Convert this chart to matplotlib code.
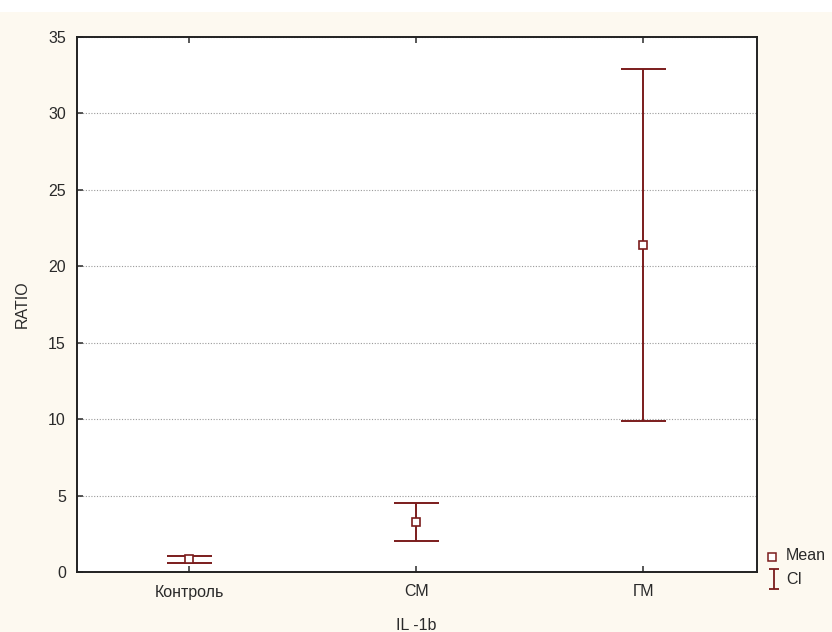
import matplotlib
matplotlib.use("Agg")
import matplotlib.pyplot as plt
from matplotlib.lines import Line2D
from matplotlib.path import Path
from matplotlib.patches import Rectangle

categories = ["Контроль", "СМ", "ГМ"]
means = [0.82, 3.3, 21.4]
ci_low = [0.6, 2.05, 9.9]
ci_high = [1.05, 4.5, 32.9]
yticks = [0, 5, 10, 15, 20, 25, 30, 35]

color = "#7b1c1c"
bg = "#fdf9f0"
txt = "#2a2a2a"
W, H = 832, 632
fs = 11.5

plt.rcParams["font.family"] = ["Liberation Sans", "DejaVu Sans"]

fig = plt.figure(figsize=(W / 100, H / 100), dpi=100, facecolor=bg)
fig.patches.append(Rectangle((0, 1 - 12 / H), 1, 12 / H, transform=fig.transFigure,
                             facecolor="white", edgecolor="none", zorder=0))
ax = fig.add_axes([77 / W, 1 - 572 / H, (757 - 77) / W, (572 - 37) / H])
ax.set_facecolor("white")

x = list(range(len(categories)))
ax.vlines(x, ci_low, ci_high, color=color, lw=1.4, zorder=3)
ax.hlines(ci_low, [i - 0.1 for i in x], [i + 0.1 for i in x], color=color, lw=1.4, zorder=3)
ax.hlines(ci_high, [i - 0.1 for i in x], [i + 0.1 for i in x], color=color, lw=1.4, zorder=3)
ax.plot(x, means, ls="none", marker="s", ms=5.5, mfc="white", mec=color, mew=1.2, zorder=4)

ax.set_xlim(-0.495, 2.5)
ax.set_ylim(0, 35)
ax.set_xticks(x)
ax.set_xticklabels(categories)
ax.set_yticks(yticks)
ax.yaxis.grid(True, ls=(0, (1, 1.5)), color="#9a9a9a", lw=0.8)
ax.set_axisbelow(True)
ax.tick_params(axis="both", labelsize=fs, colors=txt, length=4, width=1.1,
               top=True, right=False, direction="in")
ax.tick_params(axis="x", pad=9)
ax.tick_params(axis="y", pad=8)
for s in ax.spines.values():
    s.set_linewidth(1.4)
    s.set_color("#222222")

fig.text(22 / W, 1 - 304 / H, "RATIO", rotation=90, fontsize=fs, color=txt,
         ha="center", va="center")
fig.text(416 / W, 1 - 626 / H, "IL -1b", fontsize=fs, color=txt,
         ha="center", va="center")

# legend (outside, bottom right)
ibeam = Path([(-0.5, -1), (0.5, -1), (0, -1), (0, 1), (-0.5, 1), (0.5, 1)],
             [Path.MOVETO, Path.LINETO, Path.MOVETO, Path.LINETO, Path.MOVETO, Path.LINETO])
fig.add_artist(Line2D([772 / W], [1 - 557 / H], ls="none", marker="s", ms=5.5,
                      mfc="white", mec=color, mew=1.1, transform=fig.transFigure))
fig.add_artist(Line2D([774 / W], [1 - 579 / H], ls="none", marker=ibeam, ms=14,
                      mfc="none", mec=color, mew=1.3, transform=fig.transFigure))
fig.text(786 / W, 1 - 556 / H, "Mean", fontsize=fs, color=txt, ha="left", va="center")
fig.text(786 / W, 1 - 579 / H, "CI", fontsize=fs, color=txt, ha="left", va="center")

fig.savefig("out.png", dpi=100, facecolor=bg)
